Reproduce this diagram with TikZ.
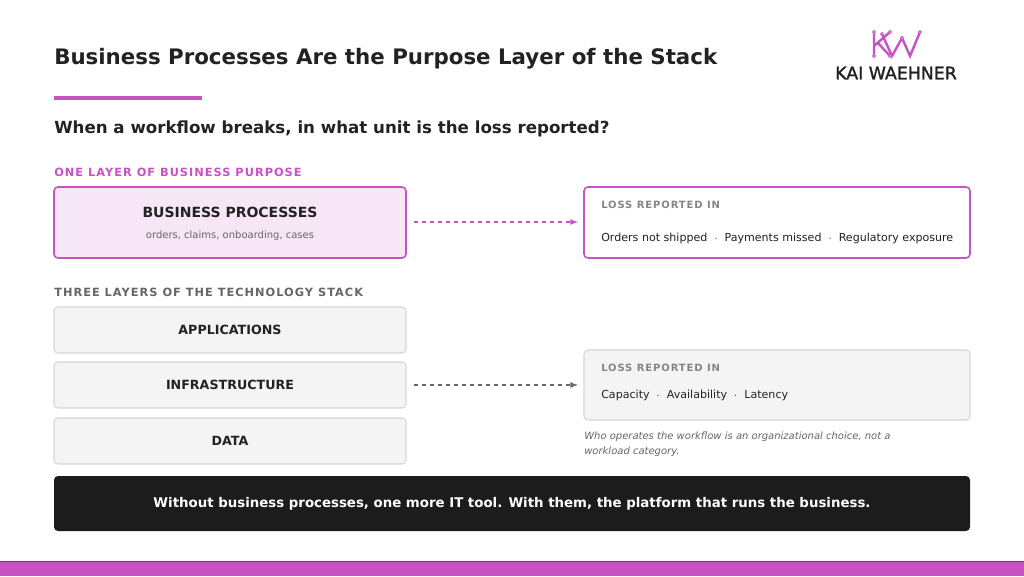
\documentclass[tikz,border=0pt]{standalone}
\usepackage{fontspec}
\setmainfont{DejaVu Sans}
\usetikzlibrary{positioning}
\definecolor{kwpink}{HTML}{C652C4}
\definecolor{kwpinkfill}{HTML}{F7E6F6}
\definecolor{kwgray}{HTML}{F4F4F4}
\definecolor{kwgrayline}{HTML}{D6D6D6}
\definecolor{kwdark}{HTML}{1C1C1C}
\definecolor{kwtext}{HTML}{222222}
\definecolor{kwmuted}{HTML}{666666}
\tikzset{
  layer/.style = {draw=kwgrayline, fill=kwgray, rounded corners=3pt, line width=0.8pt},
  purpose/.style = {draw=kwpink, fill=kwpinkfill, rounded corners=3pt, line width=1.2pt},
  lossbox/.style = {rounded corners=3pt, line width=1.2pt},
  flow/.style = {dashed, line width=1pt, -latex},
  tag/.style = {anchor=west, inner sep=0pt, font=\bfseries\fontsize{8.5}{10}\selectfont\addfontfeature{LetterSpace=9}}
}
\begin{document}
\begin{tikzpicture}[x=0.75pt, y=-0.75pt]
	 \useasboundingbox (0, 0) rectangle (1024, 576);
	 \fill[white] (0, 0) rectangle (1024, 576);

	 % heading
	 \node[anchor=west, inner sep=0pt, text=kwtext, font=\bfseries\fontsize{16}{19}\selectfont] (title) at (54, 59) {Business Processes Are the Purpose Layer of the Stack};
	 \fill[kwpink] (54, 95.5) rectangle (202, 99.5);
	 \node[anchor=west, inner sep=0pt, text=kwtext, font=\bfseries\fontsize{12.5}{15}\selectfont] (question) at (54, 129) {When a workflow breaks, in what unit is the loss reported?};

	 % logo
	 \draw[kwpink, line width=1.8pt] (874, 32) -- (874, 56) (874, 46) -- (890, 32) (878, 43) -- (890, 56);
	 \draw[kwpink, line width=1.8pt] (882, 34) -- (892, 56) -- (902, 38) -- (910, 56) -- (920, 32);
	 \foreach \px/\py in {874/32, 874/56, 890/32, 890/56, 882/34, 902/38, 920/32}
	 \fill[white, draw=kwpink, line width=0.6pt] (\px, \py) circle (1.5);
	 \node[inner sep=0pt, text=kwtext, font=\fontsize{13}{14}\selectfont\addfontfeature{FakeBold=1.5}] (logo) at (896, 73) {KAI WAEHNER};

	 % purpose layer
	 \node[tag, text=kwpink] (purposetag) at (54, 172) {ONE LAYER OF BUSINESS PURPOSE};
	 \draw[purpose] (54, 187) rectangle (406, 258);
	 \node[text=kwtext, font=\bfseries\fontsize{10.5}{12}\selectfont] (bp) at (230, 212) {BUSINESS PROCESSES};
	 \node[text=kwmuted, font=\fontsize{7.5}{9}\selectfont] (bpsub) at (230, 236) {orders, claims, onboarding, cases};

	 \draw[lossbox, draw=kwpink, fill=white] (584, 187) rectangle (970, 258);
	 \node[tag, text=kwmuted!80, font=\bfseries\fontsize{7.5}{9}\selectfont\addfontfeature{LetterSpace=9}] (bizlosstag) at (601, 205) {LOSS REPORTED IN};
	 \node[anchor=west, inner sep=0pt, text=kwtext, font=\fontsize{8.3}{10}\selectfont] (bizloss) at (601, 238) {Orders not shipped~~$\cdot$~~Payments missed~~$\cdot$~~Regulatory exposure};
	 \coordinate (bpout) at (414, 222);
	 \coordinate (bizin) at (578, 222);
	 \draw[flow, kwpink] (bpout) -- (bizin);

	 % technology stack
	 \node[tag, text=kwmuted] (stacktag) at (54, 292) {THREE LAYERS OF THE TECHNOLOGY STACK};
	 \foreach \ytop/\name in {307/APPLICATIONS, 362/INFRASTRUCTURE, 418/DATA}
	 {
	 \draw[layer] (54, \ytop) rectangle (406, \ytop + 46);
	 \node[text=kwtext, font=\bfseries\fontsize{9.5}{11}\selectfont] at (230, \ytop + 23) {\name};
	 }

	 \draw[lossbox, draw=kwgrayline, fill=kwgray, line width=0.8pt] (584, 350) rectangle (970, 420);
	 \node[tag, text=kwmuted!80, font=\bfseries\fontsize{7.5}{9}\selectfont\addfontfeature{LetterSpace=9}] (techlosstag) at (601, 368) {LOSS REPORTED IN};
	 \node[anchor=west, inner sep=0pt, text=kwtext, font=\fontsize{8.3}{10}\selectfont] (techloss) at (601, 395) {Capacity~~$\cdot$~~Availability~~$\cdot$~~Latency};
	 \coordinate (infraout) at (414, 385);
	 \coordinate (techin) at (578, 385);
	 \draw[flow, kwmuted] (infraout) -- (techin);

	 \node[anchor=north west, inner sep=0pt, text=kwmuted, align=left, font=\itshape\fontsize{7.5}{11}\selectfont] (note) at (584, 432) {Who operates the workflow is an organizational choice, not a\\workload category.};

	 % banner
	 \fill[kwdark, rounded corners=3pt] (54, 476) rectangle (970, 531);
	 \node[text=white, font=\bfseries\fontsize{10}{12}\selectfont] (banner) at (512, 504) {Without business processes, one more IT tool. With them, the platform that runs the business.};

	 \fill[kwpink] (0, 562) rectangle (1024, 576);
	 \draw[kwpink!60!black, line width=0.5pt] (0, 561.5) -- (1024, 561.5);
\end{tikzpicture}
\end{document}
